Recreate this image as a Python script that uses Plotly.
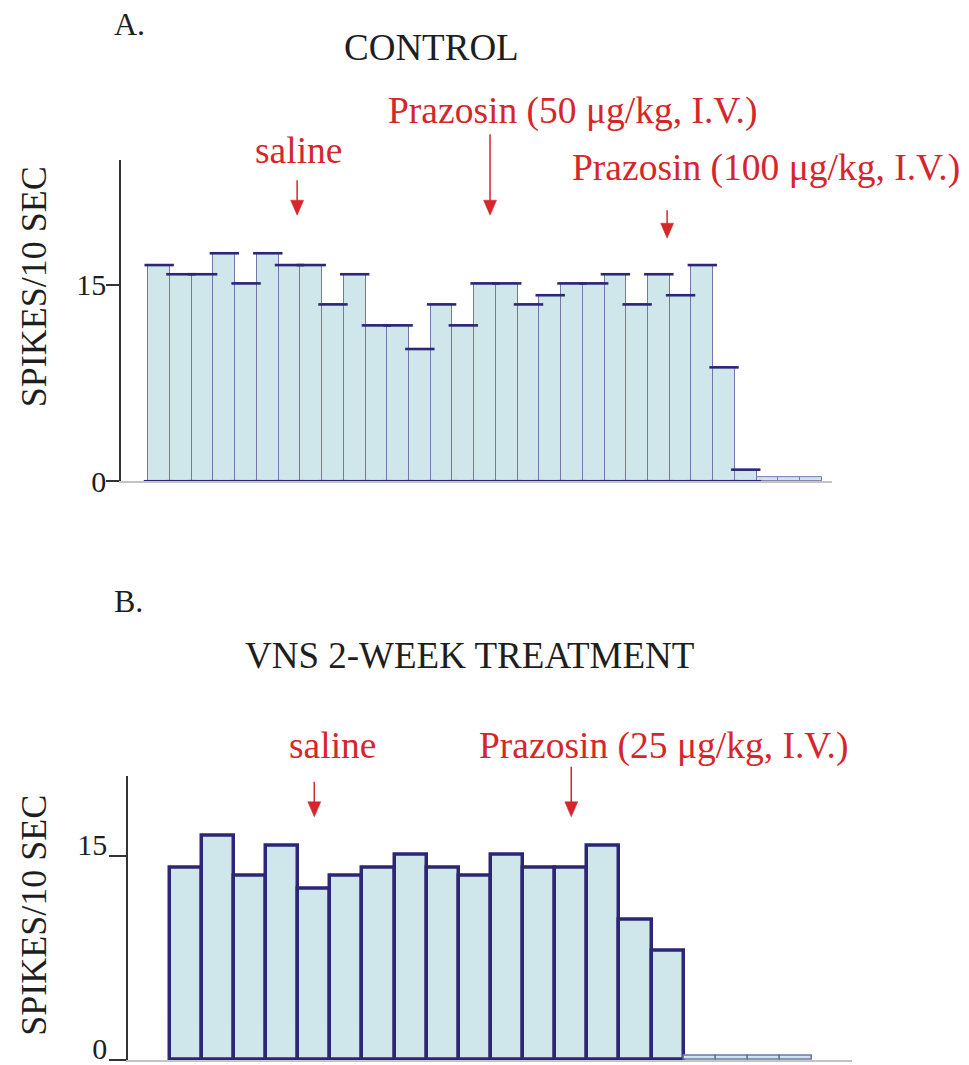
import plotly.graph_objects as go

# Firing rate histograms (spikes per 10 s bin)
control_rates = [16.5, 15.8, 15.8, 17.4, 15.1, 17.4, 16.5, 16.5, 13.5, 15.8,
                 11.9, 11.9, 10.1, 13.5, 11.9, 15.1, 15.1, 13.5, 14.2, 15.1,
                 15.1, 15.8, 13.5, 15.8, 14.2, 16.5, 8.7, 0.9, 0.3, 0.3, 0.3]
vns_rates = [14.1, 16.5, 13.5, 15.7, 12.6, 13.5, 14.1, 15.1, 14.1, 13.5,
             15.1, 14.1, 14.1, 15.7, 10.3, 8.0, 0.3, 0.3, 0.3, 0.3]

y_ticks = [0, 15]
y_tick_text = ["0", "15"]
y_title = "SPIKES/10 SEC"

# Drug injection events: (label, bin position)
control_events = [("saline", 6.35), ("Prazosin (50 μg/kg, I.V.)", 15.23),
                  ("Prazosin (100 μg/kg, I.V.)", 23.38)]
vns_events = [("saline", 4.0), ("Prazosin (25 μg/kg, I.V.)", 12.0)]

W, H = 969, 1082
REF_H = 1065  # layout positions below are given on a 969 x 1065 grid
SERIF = "Liberation Serif"
FILL = "#cfe7eb"
NAVY = "#2c2674"
THIN = "#7676a8"
RED = "#d5262b"
INK = "#1e1e1e"


def px(x):
    return x / W


def py(y):
    return 1 - y / REF_H


fig = go.Figure()

# ---- Panel A: control ----
xa = list(range(len(control_rates)))
fig.add_trace(go.Bar(x=xa, y=control_rates, width=1.0,
                     marker=dict(color=FILL, line=dict(color=THIN, width=1)),
                     xaxis="x", yaxis="y", showlegend=False, hoverinfo="skip"))
# heavy top edge and baseline of each active bin
top_a = [(i, v) for i, v in zip(xa, control_rates) if v > 0.5]
fig.add_trace(go.Scatter(x=[t[0] for t in top_a], y=[t[1] for t in top_a],
                         mode="markers", cliponaxis=False,
                         marker=dict(symbol="line-ew", size=21,
                                     line=dict(color=NAVY, width=2.6)),
                         xaxis="x", yaxis="y", showlegend=False, hoverinfo="skip"))
fig.add_trace(go.Scatter(x=[t[0] for t in top_a], y=[0] * len(top_a),
                         mode="markers", cliponaxis=False,
                         marker=dict(symbol="line-ew", size=22,
                                     line=dict(color=NAVY, width=3)),
                         xaxis="x", yaxis="y", showlegend=False, hoverinfo="skip"))

# ---- Panel B: VNS 2-week treatment ----
xb = list(range(len(vns_rates)))
fig.add_trace(go.Bar(x=xb, y=vns_rates, width=1.0,
                     marker=dict(color=FILL,
                                 line=dict(color=[NAVY if v > 0.5 else "#6f74ad" for v in vns_rates],
                                           width=[3.5 if v > 0.5 else 1.6 for v in vns_rates])),
                     xaxis="x2", yaxis="y2", showlegend=False, hoverinfo="skip"))

axis_common = dict(showgrid=False, zeroline=False, fixedrange=True)
ax_y = dict(axis_common, tickvals=y_ticks, ticktext=y_tick_text, ticks="outside",
            tickwidth=1.5, tickcolor="#333333", showline=True,
            linecolor="#333333", linewidth=1.5,
            tickfont=dict(family=SERIF, size=30, color=INK))
ax_x = dict(axis_common, showline=True, linecolor="#c4c4c4", linewidth=2,
            ticks="", showticklabels=False)

fig.update_layout(
    width=W, height=H, margin=dict(l=0, r=0, t=0, b=0),
    paper_bgcolor="white", plot_bgcolor="white", bargap=0,
    xaxis=dict(ax_x, domain=[px(121), px(832)], range=[-1.757, 30.97]),
    yaxis=dict(ax_y, domain=[py(481), py(160)], range=[0, 24.5],
               ticklen=13, ticklabelstandoff=-6),
    xaxis2=dict(ax_x, domain=[px(128), px(852)], range=[-1.799, 20.74], anchor="y2"),
    yaxis2=dict(ax_y, domain=[py(1059), py(775)], range=[0, 20.87], anchor="x2",
                ticklen=17, ticklabelstandoff=-4, ticklabelshift=-11),
)

ann = []
# panel letters and titles
ann.append(dict(text="A.", x=px(112), y=py(24), xanchor="left", yanchor="middle"))
ann.append(dict(text="CONTROL", x=px(431), y=py(47), xanchor="center", yanchor="middle",
                font=dict(family=SERIF, size=37, color=INK)))
ann.append(dict(text="B.", x=px(112), y=py(600), xanchor="left", yanchor="middle"))
ann.append(dict(text="VNS 2-WEEK TREATMENT", x=px(469), y=py(655), xanchor="center",
                yanchor="middle", font=dict(family=SERIF, size=37, color=INK)))
# y titles
for yc in (py(287), py(915)):
    ann.append(dict(text=y_title, x=px(34), y=yc, xanchor="center", yanchor="middle",
                    textangle=-90, font=dict(family=SERIF, size=36, color=INK)))

for a in ann:
    a.setdefault("font", dict(family=SERIF, size=32, color=INK))
    a.update(xref="paper", yref="paper", showarrow=False)

# event labels (pixel positions of text centres) and arrow spans
label_pos_a = [(298, 150), (572, 111), (766, 168)]
arrow_span_a = [(180, 215), (134, 215), (210, 238)]
label_pos_b = [(332, 745), (663, 745)]
arrow_span_b = [(781, 816), (766, 816)]

shapes = []


def add_events(events, label_pos, spans, xref, bin_px):
    for (label, xpos), (lx, ly), (y0, y1) in zip(events, label_pos, spans):
        ann.append(dict(text=label, x=px(lx), y=py(ly), xref="paper", yref="paper",
                        xanchor="center", yanchor="middle", showarrow=False,
                        font=dict(family=SERIF, size=37.5, color=RED)))
        head_h = 15
        half_w = 6.5 / bin_px
        shapes.append(dict(type="line", xref=xref, yref="paper", x0=xpos, x1=xpos,
                           y0=py(y0), y1=py(y1 - head_h + 2),
                           line=dict(color=RED, width=1.5)))
        path = (f"M{xpos - half_w},{py(y1 - head_h)} L{xpos + half_w},{py(y1 - head_h)} "
                f"L{xpos},{py(y1)} Z")
        shapes.append(dict(type="path", xref=xref, yref="paper", path=path,
                           fillcolor=RED, line=dict(color=RED, width=0.5)))


add_events(control_events, label_pos_a, arrow_span_a, "x", 21.72)
add_events(vns_events, label_pos_b, arrow_span_b, "x2", 32.1)

fig.update_layout(annotations=ann, shapes=shapes)
fig.write_html("out.html")
